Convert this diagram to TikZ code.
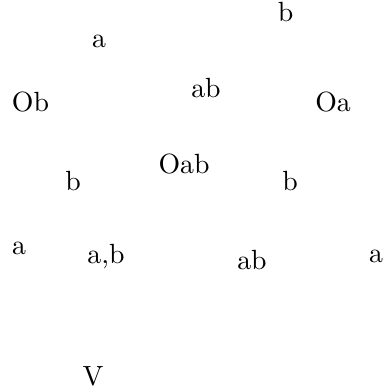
\documentclass[tikz,border=0pt]{standalone}
\begin{document}
\begin{tikzpicture}[x=0.36pt,y=-0.36pt,lbl/.style={inner sep=0pt,anchor=base,font=\fontsize{10}{12}\selectfont}]
\useasboundingbox (0,0) rectangle (383,392);
\node[lbl] (b1) at (285.5,21.7) {b};
\node[lbl] (a1) at (99,48) {a};
\node[lbl] (Ob) at (30.5,112) {Ob};
\node[lbl] (ab1) at (206,98) {ab};
\node[lbl] (Oa) at (333,112) {Oa};
\node[lbl] (Oab) at (184,174) {Oab};
\node[lbl] (b2) at (73,191) {b};
\node[lbl] (b3) at (290,191) {b};
\node[lbl] (a2) at (19,255) {a};
\node[lbl] (ab2) at (106,263) {a,b};
\node[lbl] (ab3) at (252,269) {ab};
\node[lbl] (a3) at (376,262) {a};
\node[lbl] (V) at (93,385) {V};
\end{tikzpicture}
\end{document}
